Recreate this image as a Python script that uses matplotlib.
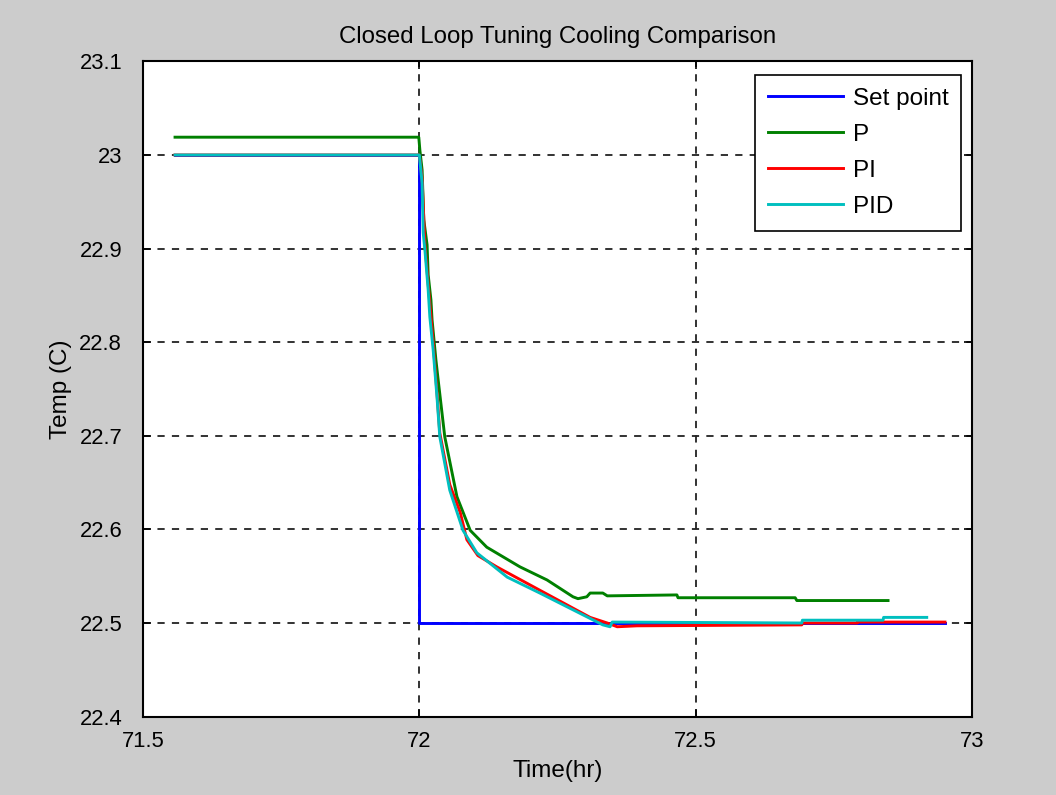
import matplotlib
matplotlib.use("Agg")
import matplotlib.pyplot as plt

plt.rcParams['font.family'] = ['Liberation Sans', 'DejaVu Sans']

# Set point
sp_x = [71.558, 72.0, 72.0, 72.951]
sp_y = [23.0, 23.0, 22.5, 22.5]

# P control
p_x = [71.558, 71.999, 72.001, 72.005, 72.008, 72.014, 72.016, 72.021, 72.023,
       72.030, 72.034, 72.046, 72.068, 72.092, 72.122, 72.182, 72.231, 72.278,
       72.287, 72.303, 72.309, 72.332, 72.340, 72.466, 72.468, 72.680, 72.683, 72.848]
p_y = [23.019, 23.019, 23.005, 22.984, 22.931, 22.904, 22.872, 22.845, 22.824,
       22.781, 22.760, 22.699, 22.635, 22.599, 22.581, 22.560, 22.546, 22.528,
       22.526, 22.528, 22.532, 22.532, 22.529, 22.530, 22.527, 22.527, 22.524, 22.524]

# PI control
pi_x = [71.558, 72.0, 72.005, 72.010, 72.016, 72.025, 72.032, 72.037, 72.055,
        72.074, 72.086, 72.106, 72.140, 72.218, 72.309, 72.340, 72.358, 72.394,
        72.692, 72.693, 72.792, 72.793, 72.951]
pi_y = [23.0, 23.0, 22.975, 22.905, 22.862, 22.800, 22.745, 22.703, 22.648,
        22.618, 22.589, 22.572, 22.560, 22.535, 22.506, 22.500, 22.496, 22.497,
        22.498, 22.500, 22.500, 22.501, 22.501]

# PID control
pid_x = [71.558, 72.0, 72.005, 72.007, 72.010, 72.016, 72.019, 72.025, 72.032,
         72.037, 72.055, 72.079, 72.104, 72.159, 72.218, 72.332, 72.345, 72.349,
         72.692, 72.693, 72.839, 72.840, 72.918]
pid_y = [23.0, 23.0, 22.970, 22.917, 22.899, 22.856, 22.827, 22.792, 22.741,
         22.699, 22.642, 22.599, 22.575, 22.549, 22.532, 22.498, 22.496, 22.501,
         22.500, 22.503, 22.503, 22.506, 22.506]

labels = ['Set point', 'P', 'PI', 'PID']
colors = ['#0000ff', '#008000', '#ff0000', '#00bfbf']
xticks = [71.5, 72, 72.5, 73]
xticklabels = ['71.5', '72', '72.5', '73']
yticks = [22.4, 22.5, 22.6, 22.7, 22.8, 22.9, 23.0, 23.1]
yticklabels = ['22.4', '22.5', '22.6', '22.7', '22.8', '22.9', '23', '23.1']

fig = plt.figure(figsize=(10.56, 7.95), dpi=100, facecolor='#cccccc')
ax = fig.add_axes([0.1354, 0.0986, 0.9205 - 0.1354, 0.9228 - 0.0986])
ax.set_facecolor('white')

for xs, ys, lab, c in zip([sp_x, p_x, pi_x, pid_x], [sp_y, p_y, pi_y, pid_y], labels, colors):
    ax.plot(xs, ys, color=c, lw=2.1, label=lab)

ax.set_xlim(71.5, 73)
ax.set_ylim(22.4, 23.1)
ax.set_xticks(xticks)
ax.set_xticklabels(xticklabels)
ax.set_yticks(yticks)
ax.set_yticklabels(yticklabels)
ax.tick_params(direction='in', top=True, right=True, length=6, width=1.2,
               labelsize=15.8)
ax.tick_params(axis='x', pad=10)
ax.tick_params(axis='y', pad=15)
ax.grid(True, color='#222222', linestyle=(0, (4, 4)), linewidth=1.3)
for s in ax.spines.values():
    s.set_linewidth(1.5)

ax.set_title('Closed Loop Tuning Cooling Comparison', fontsize=17.3, pad=13)
ax.set_xlabel('Time(hr)', fontsize=17.5, labelpad=6)
ax.set_ylabel('Temp (C)', fontsize=17.5, labelpad=5)

leg = ax.legend(loc='upper right', bbox_to_anchor=(0.9867, 0.9792), borderaxespad=0,
                fontsize=17.5, frameon=True, fancybox=False, framealpha=1,
                edgecolor='black', handlelength=3.1, handletextpad=0.38,
                labelspacing=0.58, borderpad=0.52)
leg.get_frame().set_linewidth(1.2)

fig.savefig('out.png', dpi=100, facecolor=fig.get_facecolor())
